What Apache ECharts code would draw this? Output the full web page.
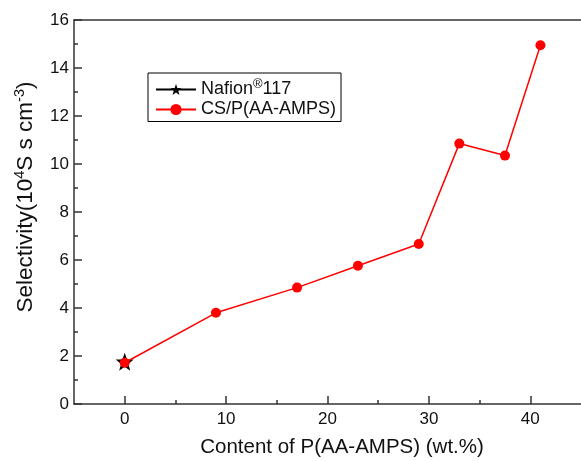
<!DOCTYPE html>
<html><head><meta charset="utf-8">
<script src="https://cdn.jsdelivr.net/npm/echarts@6/dist/echarts.min.js"></script>
<style>html,body{margin:0;padding:0;background:#fff}#c{width:581px;height:461px}</style>
</head><body><div id="c"></div>
<script>
// Data
const contentX = [0, 9, 17, 23, 29, 33, 37.5, 41];
const selectivity = [1.72, 3.80, 4.85, 5.76, 6.67, 10.85, 10.35, 14.95];
const nafionX = [0];
const nafionY = [1.72];
const xMajorTicks = [0, 10, 20, 30, 40];
const xMinorTicks = [5, 15, 25, 35];
const seriesNames = ['Nafion117', 'CS/P(AA-AMPS)'];

const chart = echarts.init(document.getElementById('c'), null, {renderer: 'canvas'});
const font = 'Liberation Sans, Arial, sans-serif';
const axisColor = '#333';
const option = {
  animation: false,
  backgroundColor: '#fff',
  grid: {left: 74, top: 20, width: 517.5, height: 384, show: false, containLabel: false},
  legend: {
    left: 148, top: 73, orient: 'vertical', borderColor: '#000', borderWidth: 1,
    padding: [5, 5, 3, 7], itemWidth: 40, itemHeight: 14, itemGap: 2,
    data: seriesNames,
    formatter: function (n) { return n === 'Nafion117' ? '{a|Nafion}{s|®}{a|117}' : '{a|' + n + '}'; },
    textStyle: {fontFamily: font, fontSize: 18, color: '#111',
      rich: {a: {fontFamily: font, fontSize: 18, color: '#111'}, s: {fontFamily: font, fontSize: 13, color: '#111', padding: [0, 0, 10, 0]}}}
  },
  xAxis: [{
    type: 'value', min: -5, max: 45, position: 'bottom',
    axisLine: {show: true, onZero: false, lineStyle: {color: axisColor, width: 1.5}},
    axisTick: {show: true, inside: true, length: 8, customValues: xMajorTicks, lineStyle: {color: axisColor, width: 1.5}},
    axisLabel: {customValues: xMajorTicks, fontFamily: font, fontSize: 17, color: '#111', margin: 7},
    splitLine: {show: false}
  }, {
    type: 'value', min: -5, max: 45, position: 'bottom',
    axisLine: {show: false},
    axisTick: {show: true, inside: true, length: 4, customValues: xMinorTicks, lineStyle: {color: axisColor, width: 1.5}},
    axisLabel: {show: false},
    splitLine: {show: false}
  }, {
    type: 'value', min: -5, max: 45, position: 'top',
    axisLine: {show: true, onZero: false, lineStyle: {color: axisColor, width: 1.5}},
    axisTick: {show: false}, axisLabel: {show: false}, splitLine: {show: false}
  }],
  yAxis: {
    type: 'value', min: 0, max: 16, interval: 2,
    axisLine: {show: true, onZero: false, lineStyle: {color: axisColor, width: 1.5}},
    axisTick: {show: true, inside: true, length: 8, lineStyle: {color: axisColor, width: 1.5}},
    minorTick: {show: true, splitNumber: 2, length: 4, lineStyle: {color: axisColor, width: 1.5}},
    axisLabel: {fontFamily: font, fontSize: 17, color: '#111', margin: 5},
    splitLine: {show: false}
  },
  graphic: [{
    type: 'text', x: 342, y: 447, style: {
      text: 'Content of P(AA-AMPS) (wt.%)', font: '20.5px ' + font, fill: '#111', align: 'center', verticalAlign: 'middle'
    }
  }, {
    type: 'text', x: 26, y: 197, rotation: Math.PI / 2, style: {
      text: '{a|Selectivity(10}{s|4}{a|S s cm}{s|-3}{a|)}', align: 'center', verticalAlign: 'middle', fill: '#111',
      rich: {a: {fontFamily: font, fontSize: 22.5, fill: '#111'}, s: {fontFamily: font, fontSize: 14.5, fill: '#111', padding: [0, 0, 12, 0]}}
    }
  }],
  series: [{
    name: seriesNames[0], type: 'line', xAxisIndex: 0,
    data: nafionX.map((x, i) => [x, nafionY[i]]),
    symbol: 'path://M0,-10 L2.35,-3.24 L9.51,-3.09 L3.8,1.24 L5.88,8.09 L0,4 L-5.88,8.09 L-3.8,1.24 L-9.51,-3.09 L-2.35,-3.24 Z',
    symbolSize: 18, symbolOffset: [0, -1], itemStyle: {color: '#000'}, lineStyle: {color: '#000', width: 1.5}, z: 2
  }, {
    name: seriesNames[1], type: 'line', xAxisIndex: 0,
    data: contentX.map((x, i) => [x, selectivity[i]]),
    symbol: 'circle', symbolSize: 10, itemStyle: {color: '#ff0000'}, lineStyle: {color: '#ff0000', width: 1.5}, z: 3
  }]
};
chart.setOption(option);
</script></body></html>
